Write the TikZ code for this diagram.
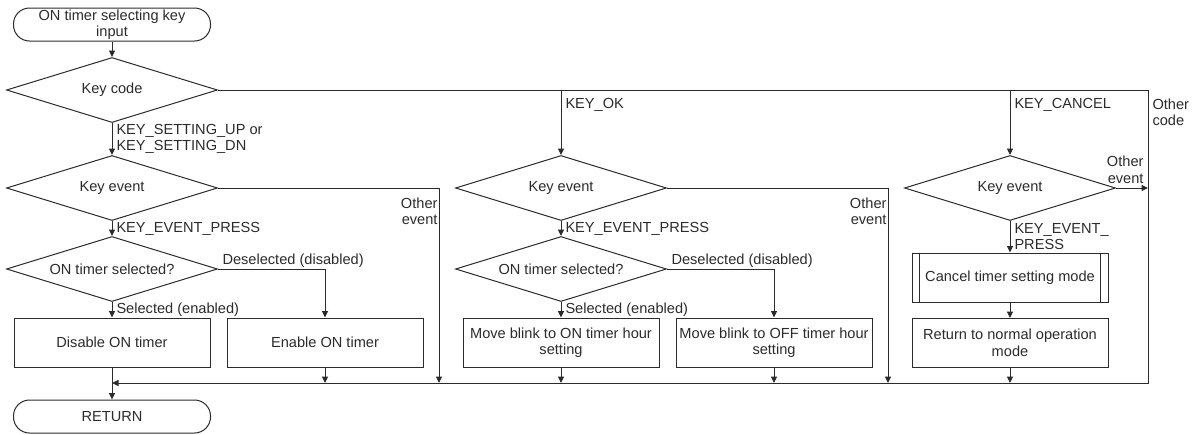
\documentclass[tikz,border=0pt]{standalone}
\usepackage{fontspec}
\setmainfont{Liberation Sans}
\usetikzlibrary{shapes.geometric,arrows.meta}
\definecolor{ink}{HTML}{2B2B2B}
\begin{document}
\begin{tikzpicture}[x=1pt,y=-1pt,font=\fontsize{14.6}{16.5}\selectfont,color=ink,line width=1pt,
  arr/.style={-{Triangle[length=6.5pt,width=6pt]}},
  term/.style={draw, rounded corners=16pt, minimum width=197pt, minimum height=33pt, inner sep=0pt, align=center},
  dec/.style={draw, diamond, aspect=3.25, minimum width=211pt, minimum height=65pt, inner sep=0pt, align=center},
  proc/.style={draw, minimum width=196pt, minimum height=49pt, inner sep=0pt, align=center},
  lbl/.style={inner xsep=4pt, inner ysep=1pt, align=left}]
  \useasboundingbox (0,0) rectangle (1197,434);
  % start and key code
  \node[term] (start) at (112,24.5) {ON timer selecting key\\input};
  \node[dec] (kc) at (112,90) {Key code};
  \node[term] (ret) at (112,416.5) {RETURN};
  \coordinate (rt) at (1148,90);
  \coordinate (mr) at (1148,383);
  \draw[arr] (start) -- (kc);
  % two columns: up/dn keys and OK key
  \foreach \c/\dx/\yes/\no/\ox in {1/0/{Disable ON timer}/{Enable ON timer}/439,
      2/449/{Move blink to ON timer hour\\setting}/{Move blink to OFF timer hour\\setting}/888} {
    \node[dec] (ke\c) at ({112+\dx},188) {Key event};
    \node[dec] (sel\c) at ({112+\dx},269) {ON timer selected?};
    \node[proc] (yes\c) at ({112+\dx},342.5) {\yes};
    \node[proc] (no\c) at ({325+\dx},342.5) {\no};
    \coordinate (oe\c) at (\ox,383);
    \draw[arr] (ke\c) -- node[lbl, right] {KEY\_EVENT\_PRESS} (sel\c);
    \draw[arr] (sel\c) -- node[lbl, right] {Selected (enabled)} (yes\c);
    \draw[arr] (sel\c.east) -| node[lbl, pos=0, above right] {Deselected (disabled)} (no\c);
    \draw[arr] (no\c) -- (no\c |- mr);
    \draw[arr] (ke\c.east) -| node[lbl, pos=0.5, below left, align=right, inner xsep=1pt, yshift=-8pt] {Other\\event} (oe\c);
  }
  \draw[arr] (kc) -- node[lbl, right] {KEY\_SETTING\_UP or\\KEY\_SETTING\_DN} (ke1);
  \draw[arr] (kc.east -| ke2.north) -- node[lbl, pos=0, below right, yshift=-7pt] {KEY\_OK} (ke2);
  \draw[arr] (yes1) -- (ret);
  \draw[arr] (yes2) -- (yes2 |- mr);
  % cancel key
  \node[dec] (ke3) at (1010,188) {Key event};
  \node[proc] (cm) at (1010,277.5) {Cancel timer setting mode};
  \node[proc] (rn) at (1010,343) {Return to normal operation\\mode};
  \draw ([xshift=8pt]cm.north west) -- ([xshift=8pt]cm.south west)
        ([xshift=-8pt]cm.north east) -- ([xshift=-8pt]cm.south east);
  \draw[arr] (kc.east -| ke3.north) -- node[lbl, pos=0, below right, yshift=-7pt] {KEY\_CANCEL} (ke3);
  \draw[arr] (ke3) -- node[lbl, right] {KEY\_EVENT\_\\PRESS} (cm);
  \draw[arr] (ke3.east) -- node[lbl, pos=1, above left, align=right, yshift=3pt] {Other\\event} (ke3.east -| rt);
  \draw[arr] (cm) -- (rn);
  \draw[arr] (rn) -- (rn |- mr);
  % other code and merge line
  \draw[arr] (kc.east) -- (rt) node[lbl, below right, yshift=-7pt] {Other\\code} -- (mr) -- (ret.north |- mr);
\end{tikzpicture}
\end{document}
